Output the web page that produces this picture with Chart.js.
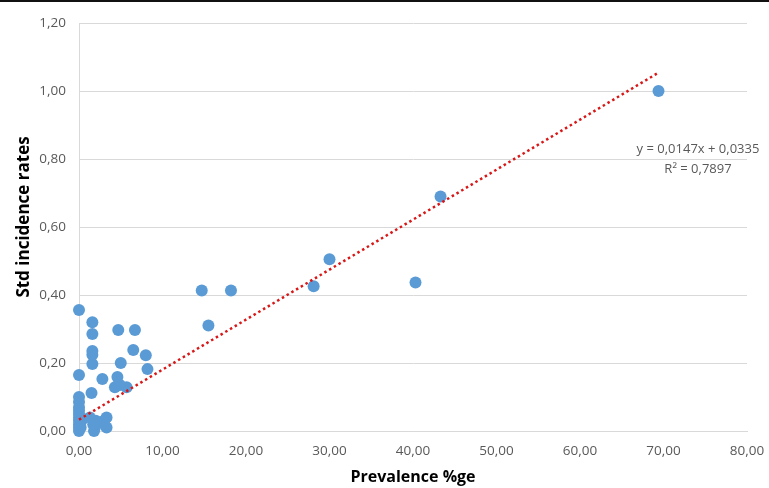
<!DOCTYPE html>
<html>
<head>
<meta charset="utf-8">
<script src="https://cdn.jsdelivr.net/npm/chart.js@4/dist/chart.umd.min.js"></script>
<style>
  html, body { margin: 0; padding: 0; background: #fff; }
  #wrap { width: 769px; height: 488px; position: relative; }
</style>
</head>
<body>
<div id="wrap"><canvas id="chart" width="769" height="488"></canvas></div>
<script>
// prevalence (%) and standardised incidence rates
const prevalence = [
  69.4, 43.3, 30.0, 28.1, 40.3, 18.2, 14.7, 15.5,
  0.0, 1.6, 1.6, 1.6, 1.6, 1.6, 4.7, 6.7, 5.0, 6.5, 8.0, 8.2,
  4.6, 2.8, 4.3, 4.9, 5.7, 0.0, 1.5, 0.0,
  0.0, 0.0, 0.0, 0.0, 0.0, 0.0, 0.0, 0.0, 0.0, 0.2, 0.3,
  1.3, 1.7, 1.8, 1.9, 2.0, 2.6, 3.3, 3.3, 3.0
];
const incidence = [
  1.00, 0.69, 0.505, 0.426, 0.437, 0.413, 0.413, 0.31,
  0.356, 0.32, 0.285, 0.235, 0.224, 0.197, 0.297, 0.297, 0.20, 0.238, 0.223, 0.182,
  0.159, 0.153, 0.129, 0.135, 0.129, 0.165, 0.112, 0.10,
  0.0, 0.01, 0.02, 0.03, 0.04, 0.05, 0.06, 0.07, 0.085, 0.01, 0.03,
  0.04, 0.02, 0.0, 0.01, 0.03, 0.025, 0.04, 0.01, 0.03
];

// linear trendline y = 0,0147x + 0,0335
const trendX = [0, 69.2];
const trendY = [0.0335, 1.051];
const equationText = ['y = 0,0147x + 0,0335', 'R² = 0,7897'];
const yTitle = 'Std incidence rates';

const xTickLabels = ['0,00', '10,00', '20,00', '30,00', '40,00', '50,00', '60,00', '70,00', '80,00'];
const yTickLabels = ['0,00', '0,20', '0,40', '0,60', '0,80', '1,00', '1,20'];

const points = prevalence.map((x, i) => ({ x: x, y: incidence[i] }));
const trend = trendX.map((x, i) => ({ x: x, y: trendY[i] }));

const tickFont = { family: 'Open Sans', size: 13.5 };
const titleFont = { family: 'Open Sans', size: 16, weight: 'bold' };

const extras = {
  id: 'extras',
  beforeDraw(chart) {
    const c = chart.ctx;
    c.save();
    c.fillStyle = '#fff';
    c.fillRect(0, 0, chart.width, chart.height);
    c.fillStyle = '#111';
    c.fillRect(0, 0, chart.width, 2);
    // y axis title, a bit above the middle like the original
    c.translate(24, 217);
    c.rotate(-Math.PI / 2);
    c.font = 'bold 17px "Open Sans"';
    c.textAlign = 'center';
    c.textBaseline = 'middle';
    c.fillStyle = '#000';
    c.fillText(yTitle, 0, 0);
    c.restore();
  },
  afterDraw(chart) {
    const c = chart.ctx;
    c.save();
    c.font = '13px "Open Sans"';
    c.textAlign = 'center';
    c.textBaseline = 'middle';
    c.fillStyle = '#595959';
    c.fillText(equationText[0], 698, 149);
    c.fillText(equationText[1], 698, 169);
    c.restore();
  }
};

new Chart(document.getElementById('chart'), {
  type: 'scatter',
  data: {
    datasets: [
      {
        label: 'trend',
        type: 'line',
        data: trend,
        borderColor: '#D81818',
        borderWidth: 2.5,
        borderDash: [2.5, 3],
        pointRadius: 0,
        fill: false,
        clip: false,
        order: 0
      },
      {
        label: 'points',
        data: points,
        backgroundColor: '#5B9BD5',
        borderColor: '#5B9BD5',
        borderWidth: 0,
        pointRadius: 6,
        clip: false,
        order: 1
      }
    ]
  },
  options: {
    responsive: false,
    animation: false,
    layout: { padding: { left: 0, right: 22, top: 23, bottom: 0 } },
    plugins: {
      legend: { display: false },
      tooltip: { enabled: false }
    },
    scales: {
      x: {
        type: 'linear',
        min: 0,
        max: 80,
        ticks: {
          stepSize: 10,
          padding: 12,
          color: '#595959',
          font: tickFont,
          callback: (v, i) => xTickLabels[i]
        },
        grid: { display: false, drawTicks: false },
        border: { display: true, color: '#D9D9D9', width: 1 },
        title: {
          display: true,
          text: 'Prevalence %ge',
          color: '#000',
          font: titleFont,
          padding: { top: 0, bottom: 1 }
        },
        afterFit(scale) {
          scale.height = 57;
          scale.paddingLeft = 0;
          scale.paddingRight = 0;
        }
      },
      y: {
        type: 'linear',
        min: 0,
        max: 1.2,
        ticks: {
          stepSize: 0.2,
          padding: 13,
          color: '#595959',
          font: tickFont,
          callback: (v, i) => yTickLabels[i]
        },
        grid: { color: '#D9D9D9', drawTicks: false },
        border: { display: true, color: '#D9D9D9', width: 1 },
        afterFit(scale) {
          scale.width = 79;
          scale.paddingTop = 0;
          scale.paddingBottom = 0;
        }
      }
    }
  },
  plugins: [extras]
});
</script>
</body>
</html>
